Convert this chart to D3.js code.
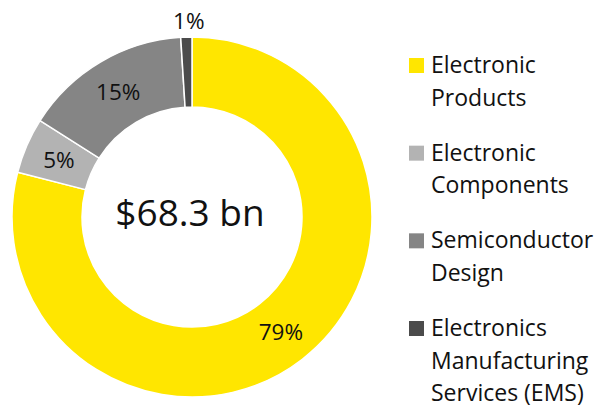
<!DOCTYPE html>
<html>
<head>
<meta charset="utf-8">
<script src="https://cdn.jsdelivr.net/npm/d3@7"></script>
<style>
  body { margin: 0; background: #fff; }
  text { font-family: "Open Sans", "Noto Sans", sans-serif; fill: #111; }
</style>
</head>
<body>
<div id="chart"></div>
<script>
// data
var categories = ["Electronic Products", "Electronic Components", "Semiconductor Design", "Electronics Manufacturing Services (EMS)"];
var legendLines = [["Electronic", "Products"], ["Electronic", "Components"], ["Semiconductor", "Design"], ["Electronics", "Manufacturing", "Services (EMS)"]];
var shares = [79, 5, 15, 1];
var shareLabels = ["79%", "5%", "15%", "1%"];
var colors = ["#ffe600", "#b3b3b3", "#858585", "#4b4b4b"];
var totalLabel = "$68.3 bn";

var width = 595, height = 408;
var cx = 192, cy = 217;
var outerR = 180, innerR = 110;

var svg = d3.select("#chart")
  .append("svg")
    .attr("width", width)
    .attr("height", height);

var g = svg.append("g")
    .attr("transform", "translate(" + cx + "," + cy + ")");

var pie = d3.pie()
  .sort(null)
  .value(function(d) { return d; });

var arc = d3.arc()
  .innerRadius(innerR)
  .outerRadius(outerR);

var labelArc = d3.arc()
  .innerRadius(145)
  .outerRadius(145);

var outsideArc = d3.arc()
  .innerRadius(196)
  .outerRadius(196);

var arcs = pie(shares);

g.selectAll("path")
  .data(arcs)
  .enter()
  .append("path")
    .attr("d", arc)
    .attr("fill", function(d, i) { return colors[i]; })
    .attr("stroke", "#fff")
    .attr("stroke-width", 1.5);

// percent labels (small slice goes outside)
g.selectAll(".pct")
  .data(arcs)
  .enter()
  .append("text")
    .attr("class", "pct")
    .attr("transform", function(d) {
      var c = (d.data < 3 ? outsideArc : labelArc).centroid(d);
      return "translate(" + (c[0] + (d.data < 3 ? 3 : 0)) + "," + c[1] + ")";
    })
    .attr("text-anchor", "middle")
    .attr("dy", "0.36em")
    .style("font-size", "22.5px")
    .text(function(d, i) { return shareLabels[i]; });

// total in the hole
g.append("text")
  .attr("text-anchor", "middle")
  .attr("x", -2)
  .attr("y", 9)
  .style("font-size", "37px")
  .text(totalLabel);

// legend
var legendY = d3.scaleLinear().domain([0, 3]).range([73, 336]);

var legend = svg.selectAll(".legend")
  .data(categories)
  .enter()
  .append("g")
    .attr("class", "legend")
    .attr("transform", function(d, i) { return "translate(409," + legendY(i) + ")"; });

legend.append("rect")
  .attr("x", 0)
  .attr("y", -15)
  .attr("width", 15)
  .attr("height", 15)
  .attr("fill", function(d, i) { return colors[i]; });

legend.append("text")
  .attr("x", 22)
  .style("font-size", "23px")
  .selectAll("tspan")
  .data(function(d, i) { return legendLines[i]; })
  .enter()
  .append("tspan")
    .attr("x", 22)
    .attr("y", function(d, j) { return j * 32.5; })
    .text(function(d) { return d; });
</script>
</body>
</html>
